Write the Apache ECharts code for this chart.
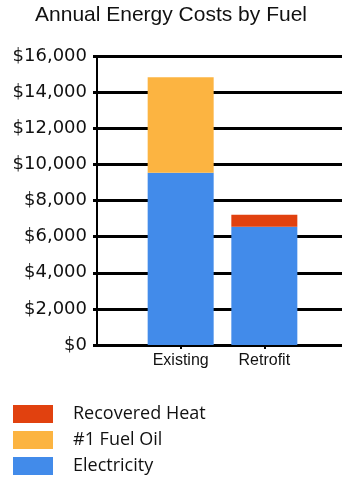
<!DOCTYPE html>
<html>
<head>
<meta charset="utf-8">
<script src="https://cdn.jsdelivr.net/npm/echarts@6/dist/echarts.min.js"></script>
<style>
  html, body { margin: 0; padding: 0; background: #fff; }
  #chart { width: 342px; height: 480px; }
</style>
</head>
<body>
<div id="chart"></div>
<script>
// Annual energy costs per scenario, in dollars
const categories = ['Existing', 'Retrofit'];
const electricity = [9540, 6550];
const fuelOil = [5280, null];
const recoveredHeat = [null, 665];
const yTicks = [0, 2000, 4000, 6000, 8000, 10000, 12000, 14000, 16000];

// Blank slots on each side place the two bars on the axis points
const axisCats = [''].concat(categories, ['']);
const pad = arr => [null].concat(arr, [null]);

const colors = { elec: '#428BEA', oil: '#FCB441', heat: '#E1410F' };

const chart = echarts.init(document.getElementById('chart'), null, { renderer: 'canvas' });
chart.setOption({
  animation: false,
  backgroundColor: '#ffffff',
  title: {
    text: 'Annual Energy Costs by Fuel',
    left: 'center',
    top: 0,
    textStyle: { fontFamily: "'Liberation Sans', Arial, sans-serif", fontSize: 21, fontWeight: 'normal', color: '#111' }
  },
  legend: {
    orient: 'vertical',
    left: 13,
    top: 405,
    padding: 0,
    height: 80,
    itemWidth: 40,
    itemHeight: 18,
    itemGap: 8,
    icon: 'rect',
    data: ['Recovered Heat', '#1 Fuel Oil', 'Electricity'],
    textStyle: { fontFamily: "'Open Sans', sans-serif", fontSize: 18, color: '#111', padding: [0, 0, 0, 15] }
  },
  grid: { left: 97, width: 251, top: 56, bottom: 135, containLabel: false, outerBoundsMode: 'none' },
  xAxis: {
    type: 'category',
    data: axisCats,
    boundaryGap: false,
    axisLine: { lineStyle: { color: '#000', width: 3 } },
    axisTick: {
      show: true, length: 4, interval: (i, v) => v !== '',
      lineStyle: { color: '#000', width: 2 }
    },
    axisLabel: {
      margin: 8, fontFamily: "'Liberation Sans', Arial, sans-serif", fontSize: 16, color: '#111',
      interval: 0
    },
    splitLine: { show: false }
  },
  yAxis: {
    type: 'value',
    min: yTicks[0],
    max: yTicks[yTicks.length - 1],
    interval: yTicks[1] - yTicks[0],
    axisLine: { show: true, lineStyle: { color: '#000', width: 2 } },
    axisTick: { show: true, length: 4, lineStyle: { color: '#000', width: 3 } },
    axisLabel: {
      margin: 10, fontFamily: 'Verdana, "DejaVu Sans", sans-serif', fontSize: 18, color: '#111',
      formatter: v => '$' + v.toLocaleString('en-US')
    },
    splitLine: { show: true, lineStyle: { color: '#000', width: 3 } }
  },
  series: [
    { name: 'Electricity', type: 'bar', stack: 'cost', barWidth: 66, data: pad(electricity), itemStyle: { color: colors.elec } },
    { name: '#1 Fuel Oil', type: 'bar', stack: 'cost', barWidth: 66, data: pad(fuelOil), itemStyle: { color: colors.oil } },
    { name: 'Recovered Heat', type: 'bar', stack: 'cost', barWidth: 66, data: pad(recoveredHeat), itemStyle: { color: colors.heat } }
  ]
});
</script>
</body>
</html>
